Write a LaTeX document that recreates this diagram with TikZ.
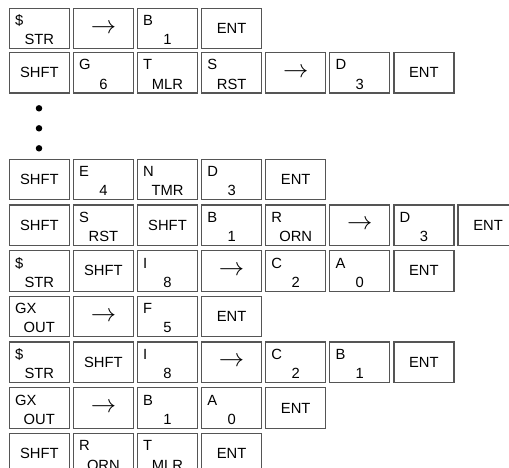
\documentclass[tikz,border=0pt]{standalone}
\usepackage{fontspec}
\setmainfont{Liberation Sans}
\usetikzlibrary{positioning,calc}
\definecolor{keyline}{HTML}{555555}
\newcommand{\keyfont}{\fontsize{8.4}{10}\selectfont}
\tikzset{
  key/.style={draw=keyline, line width=0.7pt, minimum width=1.2cm, minimum height=0.81cm,
              inner sep=0pt, font=\keyfont},
  kup/.style={anchor=base west, inner sep=0pt, font=\keyfont},
  klo/.style={anchor=base, inner sep=0pt, font=\keyfont},
  vdot/.style={circle, fill=black, inner sep=0pt, minimum size=0.13cm},
}
\newcommand{\arr}{{\fontsize{13.5}{13.5}\selectfont$\rightarrow$}}
% key with a small upper-left label and a centred lower label
\newcommand{\dkey}[5]{%
  \node[key] (#1) at (39.3+64.1*#2,#3) {};
  \node[kup] (#1u) at ([xshift=0.12cm,yshift=-0.36cm]#1.north west) {#4};
  \node[klo] (#1l) at ([yshift=0.09cm]#1.south) {#5};}
% key with one centred label
\newcommand{\skey}[4]{\node[key] (#1) at (39.3+64.1*#2,#3) {#4};}

\begin{document}
\begin{tikzpicture}[x=0.02cm,y=-0.02cm]
\useasboundingbox (0,0) rectangle (509,467);
% first two keystroke rows
\dkey{a1}{0}{28.5}{\$}{STR}  \skey{a2}{1}{28.5}{\arr}  \dkey{a3}{2}{28.5}{B}{1}  \skey{a4}{3}{28.5}{ENT}
\skey{b1}{0}{72.7}{SHFT}  \dkey{b2}{1}{72.7}{G}{6}  \dkey{b3}{2}{72.7}{T}{MLR}  \dkey{b4}{3}{72.7}{S}{RST}
\skey{b5}{4}{72.7}{\arr}  \dkey{b6}{5}{72.7}{D}{3}  \skey{b7}{6}{72.7}{ENT}
% continuation dots
\node[vdot] (d1) at (39,108.3) {};
\node[vdot] (d2) at (39,128.3) {};
\node[vdot] (d3) at (39,148.3) {};
% remaining rows
\skey{c1}{0}{179.5}{SHFT}  \dkey{c2}{1}{179.5}{E}{4}  \dkey{c3}{2}{179.5}{N}{TMR}  \dkey{c4}{3}{179.5}{D}{3}
\skey{c5}{4}{179.5}{ENT}
\skey{e1}{0}{225.2}{SHFT}  \dkey{e2}{1}{225.2}{S}{RST}  \skey{e3}{2}{225.2}{SHFT}  \dkey{e4}{3}{225.2}{B}{1}
\dkey{e5}{4}{225.2}{R}{ORN}  \skey{e6}{5}{225.2}{\arr}  \dkey{e7}{6}{225.2}{D}{3}  \skey{e8}{7}{225.2}{ENT}
\dkey{f1}{0}{270.9}{\$}{STR}  \skey{f2}{1}{270.9}{SHFT}  \dkey{f3}{2}{270.9}{I}{8}  \skey{f4}{3}{270.9}{\arr}
\dkey{f5}{4}{270.9}{C}{2}  \dkey{f6}{5}{270.9}{A}{0}  \skey{f7}{6}{270.9}{ENT}
\dkey{g1}{0}{316.6}{GX}{OUT}  \skey{g2}{1}{316.6}{\arr}  \dkey{g3}{2}{316.6}{F}{5}  \skey{g4}{3}{316.6}{ENT}
\dkey{h1}{0}{362.3}{\$}{STR}  \skey{h2}{1}{362.3}{SHFT}  \dkey{h3}{2}{362.3}{I}{8}  \skey{h4}{3}{362.3}{\arr}
\dkey{h5}{4}{362.3}{C}{2}  \dkey{h6}{5}{362.3}{B}{1}  \skey{h7}{6}{362.3}{ENT}
\dkey{i1}{0}{408.0}{GX}{OUT}  \skey{i2}{1}{408.0}{\arr}  \dkey{i3}{2}{408.0}{B}{1}  \dkey{i4}{3}{408.0}{A}{0}
\skey{i5}{4}{408.0}{ENT}
\skey{j1}{0}{453.7}{SHFT}  \dkey{j2}{1}{453.7}{R}{ORN}  \dkey{j3}{2}{453.7}{T}{MLR}  \skey{j4}{3}{453.7}{ENT}
\end{tikzpicture}
\end{document}
